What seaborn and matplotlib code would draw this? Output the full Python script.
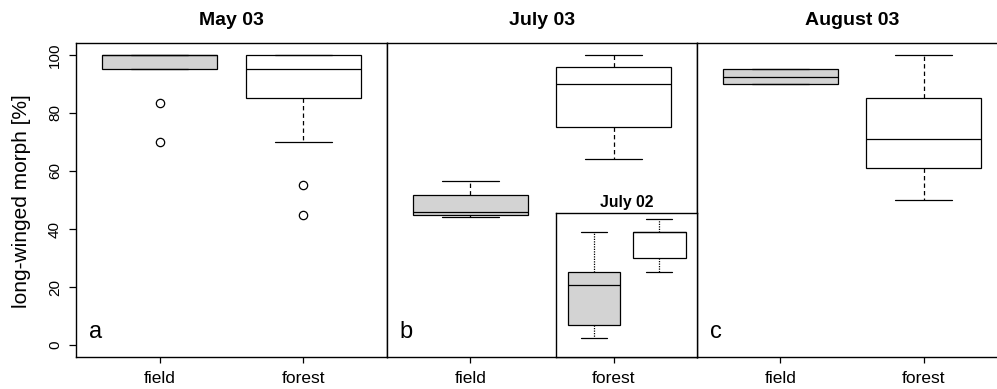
import numpy as np
import pandas as pd
import matplotlib
matplotlib.use("Agg")
import matplotlib.pyplot as plt
import seaborn as sns

# Sampling dates and habitat types
panels = ["May 03", "July 03", "August 03"]
panel_letters = ["a", "b", "c"]
sites = ["field", "forest"]

# Box summaries per habitat: lower whisker, Q1, median, Q3, upper whisker  (% long-winged)
may03_field = [95, 95, 100, 100, 100]
may03_forest = [70, 85, 95, 100, 100]
jul03_field = [44, 45, 46, 51.6, 56.7]
jul03_forest = [64, 75, 90, 95.7, 100]
aug03_field = [90, 90, 92.3, 95, 95]
aug03_forest = [50, 61, 71, 85, 100]

# Outlying samples
may03_field_out = [83.3, 70]
may03_forest_out = [55.3, 45]

# Inset: previous year's July sample
jul02_field = [10, 20, 50, 60, 90]
jul02_forest = [60, 70, 90, 90, 100]

yticks = [0, 20, 40, 60, 80, 100]

summaries = {
    "May 03": (may03_field, may03_forest),
    "July 03": (jul03_field, jul03_forest),
    "August 03": (aug03_field, aug03_forest),
}
outliers = {
    "May 03": (may03_field_out, may03_forest_out),
    "July 03": ([], []),
    "August 03": ([], []),
}

sns.set_style("ticks")
plt.rcParams["font.family"] = ["Liberation Sans", "DejaVu Sans"]
plt.rcParams["text.color"] = "black"
plt.rcParams["axes.labelcolor"] = "black"
plt.rcParams["xtick.color"] = "black"
plt.rcParams["ytick.color"] = "black"

fill = {"field": "#D3D3D3", "forest": "white"}
W, H = 997, 389
fig = plt.figure(figsize=(W / 100, H / 100), dpi=100)


def frame(x0, y0, x1, y1):
    # pixel box (from top-left) -> figure fraction rect
    return [x0 / W, 1 - y1 / H, (x1 - x0) / W, (y1 - y0) / H]


def long_form(field_vals, forest_vals):
    return pd.DataFrame({
        "site": ["field"] * len(field_vals) + ["forest"] * len(forest_vals),
        "pct": list(field_vals) + list(forest_vals),
    })


def draw_boxes(ax, df, dash):
    sns.boxplot(
        data=df, x="site", y="pct", hue="site", order=sites, hue_order=sites,
        palette=fill, width=0.8, whis=(0, 100), showfliers=False,
        linecolor="black", linewidth=0.9, legend=False, ax=ax,
        whiskerprops={"linestyle": dash},
    )


def style_frame(ax):
    for s in ax.spines.values():
        s.set_visible(True)
        s.set_color("black")
        s.set_linewidth(1.0)
    ax.set_xlim(-0.58, 1.58)
    ax.set_ylim(-4, 104)
    ax.set_xlabel("")
    ax.set_ylabel("")


boxes_px = [(76, 387), (387, 697), (697, 1007)]
top_px, bottom_px = 43.3, 356.7

for i, name in enumerate(panels):
    x0, x1 = boxes_px[i]
    ax = fig.add_axes(frame(x0, top_px, x1, bottom_px))
    f_vals, w_vals = summaries[name]
    draw_boxes(ax, long_form(f_vals, w_vals), (0, (3.5, 2.5)))
    f_out, w_out = outliers[name]
    if f_out or w_out:
        sns.stripplot(
            data=long_form(f_out, w_out), x="site", y="pct", order=sites,
            jitter=False, color="white", edgecolor="black", linewidth=0.9,
            size=6, ax=ax, zorder=5,
        )
    style_frame(ax)
    ax.set_xticks([0, 1])
    ax.set_xticklabels(sites, fontsize=12.5, color="black")
    ax.tick_params(axis="x", length=4.5, width=0.9, pad=6, colors="black")
    if i == 0:
        ax.set_yticks(yticks)
        ax.set_yticklabels([str(v) for v in yticks], fontsize=11, rotation=90,
                           va="center", color="black")
        ax.tick_params(axis="y", length=5, width=0.9, pad=5, colors="black")
    else:
        ax.set_yticks([])
    ax.set_title(name, fontsize=14, fontweight="bold", pad=13.5, color="black")
    ax.text(0.062, 0.08, panel_letters[i], transform=ax.transAxes,
            fontsize=17, ha="center", va="center", color="black")

# Inset with July 02 in the lower right of panel b
inset = fig.add_axes(frame(555.7, 213.3, 697.3, bottom_px))
draw_boxes(inset, long_form(jul02_field, jul02_forest), (0, (1, 1)))
style_frame(inset)
inset.set_xticks([])
inset.set_yticks([])
inset.set_title("July 02", fontsize=11.3, fontweight="bold", pad=4.8, color="black")
inset.patch.set_facecolor("white")

fig.text(0.022, 0.483, "long-winged morph [%]", rotation=90,
         fontsize=15, ha="center", va="center", color="black")

fig.savefig("out.png", dpi=100)
